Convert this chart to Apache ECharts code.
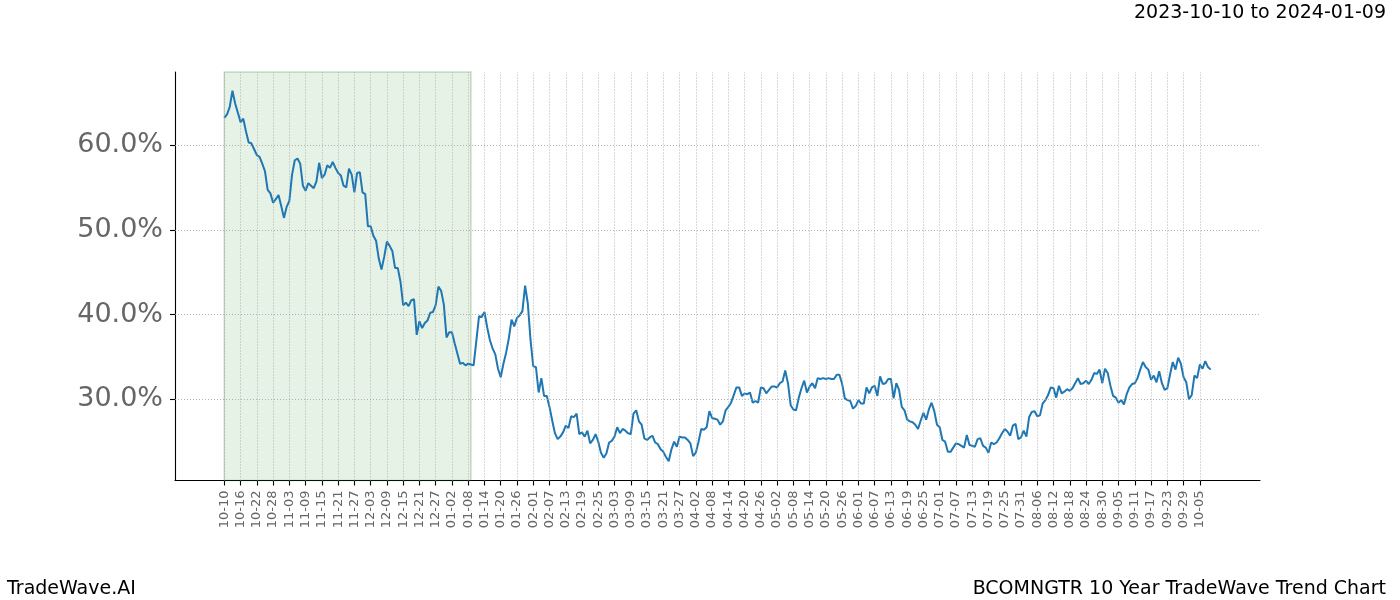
<!DOCTYPE html>
<html>
<head>
<meta charset="utf-8">
<script src="https://cdn.jsdelivr.net/npm/echarts@6/dist/echarts.min.js"></script>
<style>
html,body{margin:0;padding:0;background:#fff;}
#chart{width:1400px;height:600px;}
</style>
</head>
<body>
<div id="chart"></div>
<script>
// Day-by-day trend values (%) starting 2023-10-10, one per calendar row
const trendValues = [
 63.2,63.6,64.5,66.4,64.9,63.8,62.7,63.1,61.6,60.3,
 60.2,59.5,58.8,58.6,57.8,56.9,54.7,54.3,53.2,53.6,
 54.1,52.8,51.4,52.7,53.4,56.5,58.2,58.4,57.8,55.2,
 54.6,55.5,55.2,54.9,55.7,57.9,56.1,56.5,57.6,57.3,
 58.0,57.3,56.7,56.4,55.2,55.0,57.2,56.5,54.4,56.7,
 56.8,54.4,54.2,50.4,50.4,49.3,48.7,46.6,45.3,46.8,
 48.6,48.1,47.5,45.5,45.5,43.9,41.1,41.4,41.0,41.7,
 41.8,37.6,39.2,38.4,39.0,39.3,40.2,40.3,41.1,43.3,
 42.8,41.2,37.3,37.9,37.9,36.6,35.4,34.2,34.3,34.0,
 34.2,34.1,34.0,36.9,39.8,39.7,40.3,38.5,37.0,36.0,
 35.3,33.6,32.6,34.2,35.5,37.2,39.4,38.6,39.6,39.9,
 40.4,43.4,41.3,37.0,33.9,33.8,30.8,32.5,30.4,30.4,
 29.1,27.5,26.0,25.3,25.6,26.1,26.9,26.6,28.0,27.9,
 28.3,25.9,26.1,25.6,26.3,24.8,25.2,25.9,25.0,23.7,
 23.1,23.6,24.9,25.1,25.6,26.7,26.0,26.5,26.3,26.0,
 25.9,28.3,28.7,27.4,27.0,25.4,25.2,25.5,25.7,24.9,
 24.7,24.1,23.8,23.2,22.7,24.1,25.0,24.4,25.6,25.5,
 25.5,25.2,24.8,23.3,23.7,25.0,26.5,26.4,26.7,28.6,
 27.8,27.7,27.6,27.0,27.4,28.7,29.1,29.6,30.5,31.4,
 31.4,30.4,30.7,30.6,30.8,29.6,29.8,29.6,31.4,31.3,
 30.7,31.1,31.5,31.5,31.4,31.9,32.1,33.4,31.9,29.3,
 28.8,28.7,30.2,31.3,32.2,30.8,31.5,31.9,31.3,32.5,
 32.4,32.5,32.4,32.5,32.4,32.4,32.9,32.9,31.8,30.1,
 29.9,29.8,28.9,29.2,29.9,29.5,29.5,31.4,30.7,31.4,
 31.6,30.4,32.7,31.8,31.9,32.4,32.4,30.1,31.9,31.1,
 29.1,28.7,27.6,27.4,27.3,27.0,26.5,27.5,28.4,27.6,
 28.8,29.6,28.6,27.0,26.7,25.2,25.0,23.8,23.8,24.3,
 24.8,24.7,24.5,24.3,25.8,24.6,24.5,24.4,25.3,25.4,
 24.5,24.3,23.7,24.9,24.7,24.9,25.4,26.0,26.5,26.2,
 25.7,26.9,27.1,25.3,25.5,26.3,25.6,27.9,28.5,28.6,
 28.0,28.1,29.5,29.9,30.5,31.4,31.3,30.2,31.6,30.7,
 30.9,31.2,31.0,31.3,31.9,32.5,31.8,31.9,32.2,31.8,
 32.3,33.1,33.0,33.5,31.9,33.6,33.1,31.6,30.4,30.2,
 29.6,29.9,29.4,30.6,31.4,31.8,31.9,32.5,33.5,34.4,
 33.8,33.5,32.3,32.8,32.0,33.3,31.9,31.1,31.3,32.9,
 34.4,33.5,34.9,34.2,32.6,32.0,30.0,30.5,32.8,32.5,
 34.1,33.6,34.5,33.8,33.5
];

// Tick labels, one every 6 rows
const tickLabels = ['10-10','10-16','10-22','10-28','11-03','11-09','11-15','11-21','11-27','12-03',
 '12-09','12-15','12-21','12-27','01-02','01-08','01-14','01-20','01-26','02-01',
 '02-07','02-13','02-19','02-25','03-03','03-09','03-15','03-21','03-27','04-02',
 '04-08','04-14','04-20','04-26','05-02','05-08','05-14','05-20','05-26','06-01',
 '06-07','06-13','06-19','06-25','07-01','07-07','07-13','07-19','07-25','07-31',
 '08-06','08-12','08-18','08-24','08-30','09-05','09-11','09-17','09-23','09-29','10-05'];
const tickStep = 6;
const yTicks = [30, 40, 50, 60];
const highlightStart = 0;   // 2023-10-10
const highlightEnd = 91;    // 2024-01-09

const titleText = '2023-10-10 to 2024-01-09';
const footerLeft = 'TradeWave.AI';
const footerRight = 'BCOMNGTR 10 Year TradeWave Trend Chart';

const tickValues = tickLabels.map((_, k) => k * tickStep);
const lineData = trendValues.map((v, i) => [i, v]);
const FONT = 'DejaVu Sans';

const chart = echarts.init(document.getElementById('chart'), null, {renderer: 'canvas'});
chart.setOption({
  animation: false,
  backgroundColor: '#ffffff',
  title: [
    {text: titleText, right: 14, top: 4, padding: 0, textStyle: {fontFamily: FONT, fontSize: 19, fontWeight: 'normal', color: '#000'}},
    {text: footerLeft, left: 7, top: 580, padding: 0, textStyle: {fontFamily: FONT, fontSize: 19, fontWeight: 'normal', color: '#000'}},
    {text: footerRight, right: 14, top: 580, padding: 0, textStyle: {fontFamily: FONT, fontSize: 19, fontWeight: 'normal', color: '#000'}}
  ],
  grid: {left: 175, right: 140, top: 72, bottom: 119.5, containLabel: false},
  xAxis: {
    type: 'value', min: -18.2, max: 382.2,
    axisLine: {show: true, onZero: false, lineStyle: {color: '#000', width: 1.1}},
    axisTick: {show: true, inside: false, length: 5, customValues: tickValues, lineStyle: {color: '#000', width: 1.1}},
    axisLabel: {show: true, rotate: 90, margin: 10, customValues: tickValues,
      formatter: v => tickLabels[Math.round(v / tickStep)] || '',
      fontFamily: FONT, fontSize: 13, color: '#666'},
    splitLine: {show: false}
  },
  yAxis: {
    type: 'value', min: 20.42, max: 68.61,
    axisLine: {show: true, onZero: false, lineStyle: {color: '#000', width: 1.1}},
    axisTick: {show: true, inside: false, length: 5, customValues: yTicks, lineStyle: {color: '#000', width: 1.1}},
    axisLabel: {show: true, margin: 12, customValues: yTicks, padding: [4, 0, 0, 0],
      formatter: v => v.toFixed(1) + '%',
      fontFamily: FONT, fontSize: 27, color: '#666'},
    splitLine: {show: false}
  },
  series: [
    {
      name: 'shade', type: 'line', data: [[0, 30]], z: 1, silent: true,
      showSymbol: false, lineStyle: {opacity: 0}, itemStyle: {opacity: 0},
      markArea: {
        silent: true,
        itemStyle: {color: 'rgba(0,128,0,0.1)', borderColor: 'rgba(0,90,0,0.2)', borderWidth: 1.5},
        data: [[{xAxis: highlightStart}, {xAxis: highlightEnd}]]
      }
    },
    {
      name: 'grid', type: 'line', data: [[0, 30]], z: 2, silent: true,
      showSymbol: false, lineStyle: {opacity: 0}, itemStyle: {opacity: 0},
      markLine: {
        silent: true, symbol: ['none', 'none'], label: {show: false},
        lineStyle: {color: '#a0a0a0', type: [1, 2], width: 0.8},
        emphasis: {disabled: true},
        data: tickValues.map(v => ({xAxis: v})).concat(yTicks.map(v => ({yAxis: v})))
      }
    },
    {
      name: 'trend', type: 'line', data: lineData, z: 3,
      showSymbol: false, smooth: false,
      lineStyle: {color: '#1f77b4', width: 2},
      itemStyle: {color: '#1f77b4'}
    }
  ]
});
</script>
</body>
</html>
